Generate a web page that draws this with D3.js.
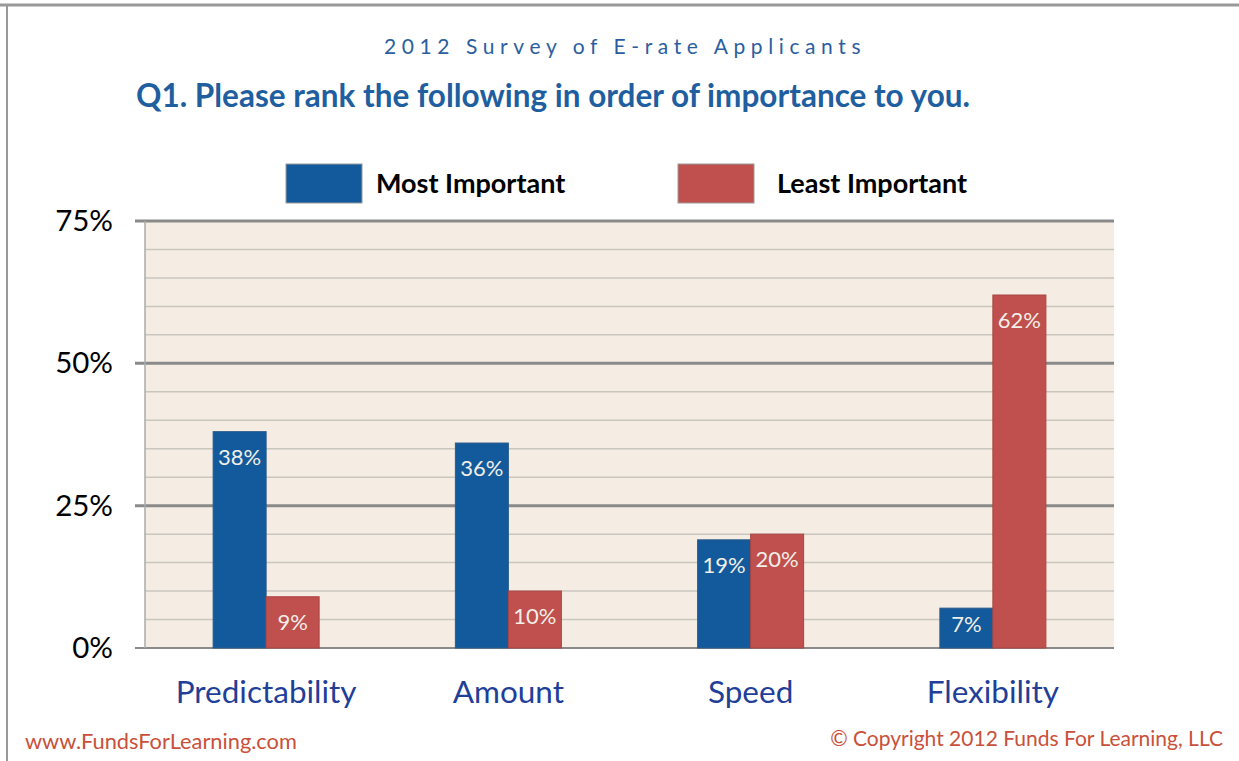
<!DOCTYPE html>
<html><head><meta charset="utf-8">
<script src="https://cdn.jsdelivr.net/npm/d3@7"></script>
<style>body{margin:0;background:#fff}svg{display:block}</style>
</head><body>
<svg id="c" width="1239" height="761"></svg>
<script>
const categories = ["Predictability","Amount","Speed","Flexibility"];
const seriesNames = ["Most Important","Least Important"];
const mostImportant = [38,36,19,7];
const leastImportant = [9,10,20,62];
const yTicks = [0,25,50,75];
const minorTicks = [5,10,15,20,30,35,40,45,55,60,65,70];
const colors = ["#125a9c","#c0504d"];

const svg = d3.select("#c");
const font = "Lato, 'Open Sans', sans-serif";
// frame
svg.append("line").attr("x1",0).attr("x2",1239).attr("y1",5).attr("y2",5).attr("stroke","#999").attr("stroke-width",3);
svg.append("line").attr("x1",7).attr("x2",7).attr("y1",4).attr("y2",761).attr("stroke","#999").attr("stroke-width",2);

const L=145,R=1114,T=221,B=648;
const x = d3.scaleBand().domain(categories).range([L,R]);
const y = d3.scaleLinear().domain([0,75]).range([B,T]);
const xs = d3.scaleBand().domain(seriesNames).range([0,106]);

svg.append("rect").attr("x",L).attr("y",T).attr("width",R-L).attr("height",B-T).attr("fill","#f5ede3");
svg.selectAll(".minor").data(minorTicks).enter().append("line")
  .attr("x1",L).attr("x2",R).attr("y1",d=>y(d)).attr("y2",d=>y(d)).attr("stroke","#c9c5bf").attr("stroke-width",1.5);
svg.selectAll(".major").data(yTicks.filter(d=>d>0)).enter().append("line")
  .attr("x1",L-10).attr("x2",R).attr("y1",d=>y(d)).attr("y2",d=>y(d)).attr("stroke","#8a8a8a").attr("stroke-width",3);
svg.append("line").attr("x1",L-10).attr("x2",R).attr("y1",B).attr("y2",B).attr("stroke","#8a8a8a").attr("stroke-width",2);
svg.append("line").attr("x1",L).attr("x2",L).attr("y1",T).attr("y2",B).attr("stroke","#aaa").attr("stroke-width",1.5);

svg.selectAll(".yl").data(yTicks).enter().append("text")
  .attr("x",113).attr("y",d=>y(d)+10).attr("text-anchor","end").attr("font-family",font)
  .attr("font-size",29.5).attr("fill","#000").text(d=>d+"%");

const rows = categories.map((c,i)=>({c, vals:[mostImportant[i],leastImportant[i]]}));
const g = svg.selectAll(".cat").data(rows).enter().append("g")
  .attr("transform",d=>`translate(${x(d.c)+x.bandwidth()/2-53},0)`);
g.selectAll("rect").data(d=>d.vals.map((v,j)=>({v,s:seriesNames[j],j}))).enter().append("rect")
  .attr("x",d=>xs(d.s)).attr("width",xs.bandwidth()).attr("y",d=>y(d.v)).attr("height",d=>B-y(d.v))
  .attr("fill",d=>colors[d.j]).attr("stroke",d=>d.j?"#a94442":"#2a5a8a").attr("stroke-width",1);
g.selectAll("text").data(d=>d.vals.map((v,j)=>({v,s:seriesNames[j],j}))).enter().append("text")
  .attr("x",d=>xs(d.s)+xs.bandwidth()/2).attr("y",d=>Math.min(y(d.v)+33,B-16)).attr("text-anchor","middle")
  .attr("font-family",font).attr("font-size",22).attr("fill","#f2eee8").text(d=>d.v+"%");

svg.selectAll(".xl").data(categories).enter().append("text")
  .attr("x",d=>x(d)+x.bandwidth()/2).attr("y",703).attr("text-anchor","middle")
  .attr("font-family",font).attr("font-size",31.5).attr("fill","#1f3f99").text(d=>d);

// titles
svg.append("text").attr("x",625).attr("y",54).attr("text-anchor","middle").attr("font-family",font)
  .attr("font-size",21).attr("letter-spacing",5.6).attr("fill","#2a5ea0").text("2012 Survey of E-rate Applicants");
svg.append("text").attr("x",553).attr("y",107).attr("text-anchor","middle").attr("font-family",font)
  .attr("font-weight","bold").attr("font-size",31.5).attr("fill","#1f5fa0").text("Q1. Please rank the following in order of importance to you.");

// legend
const legX=[286,678], legT=[376,777];
seriesNames.forEach((s,i)=>{
  svg.append("rect").attr("x",legX[i]).attr("y",164).attr("width",76).attr("height",39).attr("fill",colors[i]).attr("stroke","#999");
  svg.append("text").attr("x",legT[i]).attr("y",193).attr("font-family",font).attr("font-weight","bold")
    .attr("font-size",27).attr("fill","#000").text(s);
});

svg.append("text").attr("x",25).attr("y",749).attr("font-family",font).attr("font-size",21.8).attr("fill","#c9503a").text("www.FundsForLearning.com");
svg.append("text").attr("x",1223).attr("y",746).attr("text-anchor","end").attr("font-family",font).attr("font-size",21).attr("fill","#c9503a").text("© Copyright 2012 Funds For Learning, LLC");
</script></body></html>
